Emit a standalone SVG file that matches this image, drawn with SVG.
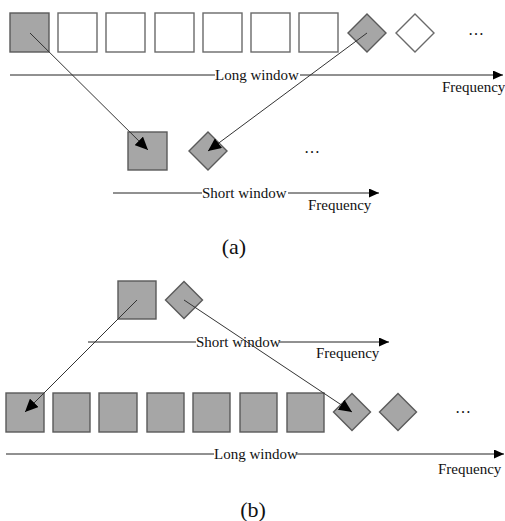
<svg xmlns="http://www.w3.org/2000/svg" width="505" height="521" viewBox="0 0 505 521">
<style>
.g{fill:#a6a6a6;stroke:#5a5a5a;stroke-width:1.4}
.w{fill:#fff;stroke:#6a6a6a;stroke-width:1.4}
.ax{stroke:#222;stroke-width:1}
.cn{stroke:#333;stroke-width:1;fill:none}
.t{font-family:"Liberation Serif","Times New Roman",serif;font-size:15px;fill:#111}
.e{font-family:"Liberation Serif",serif;font-size:16px;fill:#111}
.cap{font-family:"Liberation Serif",serif;font-size:22px;fill:#111;text-anchor:middle}
</style>
<defs>
<marker id="ah" markerUnits="userSpaceOnUse" markerWidth="14" markerHeight="12" refX="13" refY="6" orient="auto"><path d="M0,0 L13,6 L0,12 z" fill="#000"/></marker>
<marker id="ax" markerUnits="userSpaceOnUse" markerWidth="10" markerHeight="9" refX="10" refY="4.5" orient="auto"><path d="M0,0 L10,4.5 L0,9 z" fill="#000"/></marker>
</defs>
<rect width="505" height="521" fill="#fff"/>

<!-- (a) top row -->
<g id="a-long-row">
<rect class="g" x="10" y="13" width="39" height="39"/>
<rect class="w" x="58" y="13" width="39" height="39"/>
<rect class="w" x="106" y="13" width="39" height="39"/>
<rect class="w" x="155" y="13" width="39" height="39"/>
<rect class="w" x="203" y="13" width="39" height="39"/>
<rect class="w" x="251" y="13" width="39" height="39"/>
<rect class="w" x="299" y="13" width="39" height="39"/>
<path class="g" d="M367,14 L386,33 L367,52 L348,33 z"/>
<path class="w" d="M415,14 L434,33 L415,52 L396,33 z"/>
<text class="e" x="468" y="35">…</text>
</g>
<g id="a-long-axis">
<line class="ax" x1="10" y1="75" x2="215" y2="75"/>
<text class="t" x="215" y="80">Long window</text>
<line class="ax" x1="300" y1="75" x2="503" y2="75" marker-end="url(#ax)"/>
<text class="t" x="442" y="92">Frequency</text>
</g>
<g id="a-short-row">
<rect class="g" x="128" y="132" width="39" height="38"/>
<path class="g" d="M208,132 L227,151 L208,170 L189,151 z"/>
<text class="e" x="304" y="153">…</text>
</g>
<g id="a-short-axis">
<line class="ax" x1="113" y1="193" x2="202" y2="193"/>
<text class="t" x="202" y="198">Short window</text>
<line class="ax" x1="288" y1="193" x2="379" y2="193" marker-end="url(#ax)"/>
<text class="t" x="308" y="210">Frequency</text>
</g>
<text id="cap-a" class="cap" x="234" y="254">(a)</text>

<!-- (b) -->
<g id="b-short-row">
<rect class="g" x="118" y="281" width="38" height="38"/>
<path class="g" d="M184,281.5 L202.5,300 L184,318.5 L165.5,300 z"/>
</g>
<g id="b-short-axis">
<line class="ax" x1="88" y1="342" x2="196" y2="342"/>
<text class="t" x="196" y="347">Short window</text>
<line class="ax" x1="279" y1="342" x2="389" y2="342" marker-end="url(#ax)"/>
<text class="t" x="316" y="358">Frequency</text>
</g>
<g id="b-long-row">
<rect class="g" x="6" y="393" width="38" height="39"/>
<rect class="g" x="53" y="393" width="37" height="39"/>
<rect class="g" x="99" y="393" width="38" height="39"/>
<rect class="g" x="147" y="393" width="37" height="39"/>
<rect class="g" x="193" y="393" width="37" height="39"/>
<rect class="g" x="240" y="393" width="37" height="39"/>
<rect class="g" x="287" y="393" width="37" height="39"/>
<path class="g" d="M352,393.5 L370.5,412 L352,430.5 L333.5,412 z"/>
<path class="g" d="M398,393.5 L416.5,412 L398,430.5 L379.5,412 z"/>
<text class="e" x="455" y="413">…</text>
</g>
<g id="b-long-axis">
<line class="ax" x1="6" y1="454" x2="214" y2="454"/>
<text class="t" x="214" y="459">Long window</text>
<line class="ax" x1="296" y1="454" x2="504" y2="454" marker-end="url(#ax)"/>
<text class="t" x="438" y="474">Frequency</text>
</g>
<text id="cap-b" class="cap" x="253" y="517">(b)</text>

<g id="connectors">
<line class="cn" x1="30" y1="33" x2="148" y2="150" marker-end="url(#ah)"/>
<line class="cn" x1="367" y1="33" x2="208" y2="151" marker-end="url(#ah)"/>
<line class="cn" x1="137" y1="300" x2="25" y2="412" marker-end="url(#ah)"/>
<line class="cn" x1="184" y1="300" x2="352" y2="412" marker-end="url(#ah)"/>
</g>
</svg>
